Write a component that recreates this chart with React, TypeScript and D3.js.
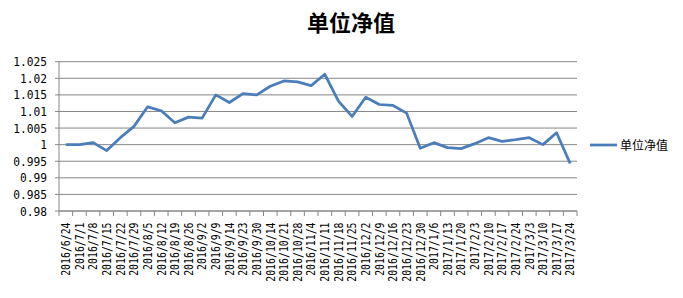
import React from "react";
import * as d3 from "d3";

const categories = [
  "2016/6/24", "2016/7/1", "2016/7/8", "2016/7/15", "2016/7/22", "2016/7/29",
  "2016/8/5", "2016/8/12", "2016/8/19", "2016/8/26", "2016/9/2", "2016/9/9",
  "2016/9/14", "2016/9/23", "2016/9/30", "2016/10/14", "2016/10/21", "2016/10/28",
  "2016/11/4", "2016/11/11", "2016/11/18", "2016/11/25", "2016/12/2", "2016/12/9",
  "2016/12/16", "2016/12/23", "2016/12/30", "2017/1/6", "2017/1/13", "2017/1/20",
  "2017/2/3", "2017/2/10", "2017/2/17", "2017/2/24", "2017/3/3", "2017/3/10",
  "2017/3/17", "2017/3/24",
];

const navValues = [
  1.0, 1.0, 1.0006, 0.9982, 1.0021, 1.0055, 1.0114, 1.0102, 1.0066, 1.0083,
  1.008, 1.015, 1.0127, 1.0154, 1.015, 1.0176, 1.0192, 1.0189, 1.0178, 1.0212,
  1.0131, 1.0085, 1.0143, 1.0121, 1.0118, 1.0095, 0.9989, 1.0006, 0.9991, 0.9988,
  1.0003, 1.0021, 1.001, 1.0015, 1.0021, 1.0, 1.0036, 0.9943,
];

const yTicks = [0.98, 0.985, 0.99, 0.995, 1, 1.005, 1.01, 1.015, 1.02, 1.025];
const seriesName = "单位净值";
const title = "单位净值";

export default function App() {
  const W = 683, H = 298;
  const left = 59, right = 577, top = 61.7, bottom = 211;
  const x = d3.scaleBand<string>().domain(categories).range([left, right]).padding(0);
  const y = d3.scaleLinear().domain([0.98, 1.025]).range([bottom, top]);
  const line = d3
    .line<number>()
    .x((_, i) => (x(categories[i]) as number) + x.bandwidth() / 2)
    .y((d) => y(d));
  const grid = "#868686";
  const lineColor = "#4a7ebb";
  const cjk = "'Noto Sans CJK SC', sans-serif";
  const mono = "'DejaVu Sans Mono', 'Liberation Mono', monospace";
  const tickEdges = categories.map((c) => x(c) as number).concat([right]);

  return (
    <svg
      width={W}
      height={H}
      style={{ position: "absolute", left: 0, top: 0, background: "#fff" }}
    >
      <rect x={0} y={0} width={W} height={H} fill="#fff" />
      <text
        x={351}
        y={31}
        textAnchor="middle"
        fontFamily={cjk}
        fontSize={22}
        fontWeight="bold"
        fill="#000"
      >
        {title}
      </text>
      {yTicks.map((t) => (
        <g key={t}>
          <line x1={left - 4} x2={right} y1={y(t)} y2={y(t)} stroke={grid} strokeWidth={1} />
          <text
            transform={`translate(47,${y(t) + 4.5}) scale(0.9,1)`}
            textAnchor="end"
            fontFamily={mono}
            fontSize={12.5}
            fill="#000"
          >
            {String(t)}
          </text>
        </g>
      ))}
      <line x1={left} x2={left} y1={top} y2={bottom} stroke={grid} strokeWidth={1} />
      <line x1={left} x2={right} y1={bottom} y2={bottom} stroke={grid} strokeWidth={1} />
      {tickEdges.map((tx, i) => (
        <line key={i} x1={tx} x2={tx} y1={bottom} y2={bottom + 5} stroke={grid} strokeWidth={1} />
      ))}
      {categories.map((c) => {
        const cx = (x(c) as number) + x.bandwidth() / 2;
        return (
          <text
            key={c}
            transform={`translate(${cx + 4.3},${222.5}) rotate(-90) scale(0.82,1)`}
            textAnchor="end"
            fontFamily={mono}
            fontSize={12}
            fill="#000"
          >
            {c}
          </text>
        );
      })}
      <path d={line(navValues) || ""} fill="none" stroke={lineColor} strokeWidth={2.75} strokeLinejoin="round" />
      <line x1={590} x2={617} y1={145} y2={145} stroke={lineColor} strokeWidth={2.75} />
      <text x={620} y={149.5} fontFamily={cjk} fontSize={12} fill="#000">
        {seriesName}
      </text>
    </svg>
  );
}
